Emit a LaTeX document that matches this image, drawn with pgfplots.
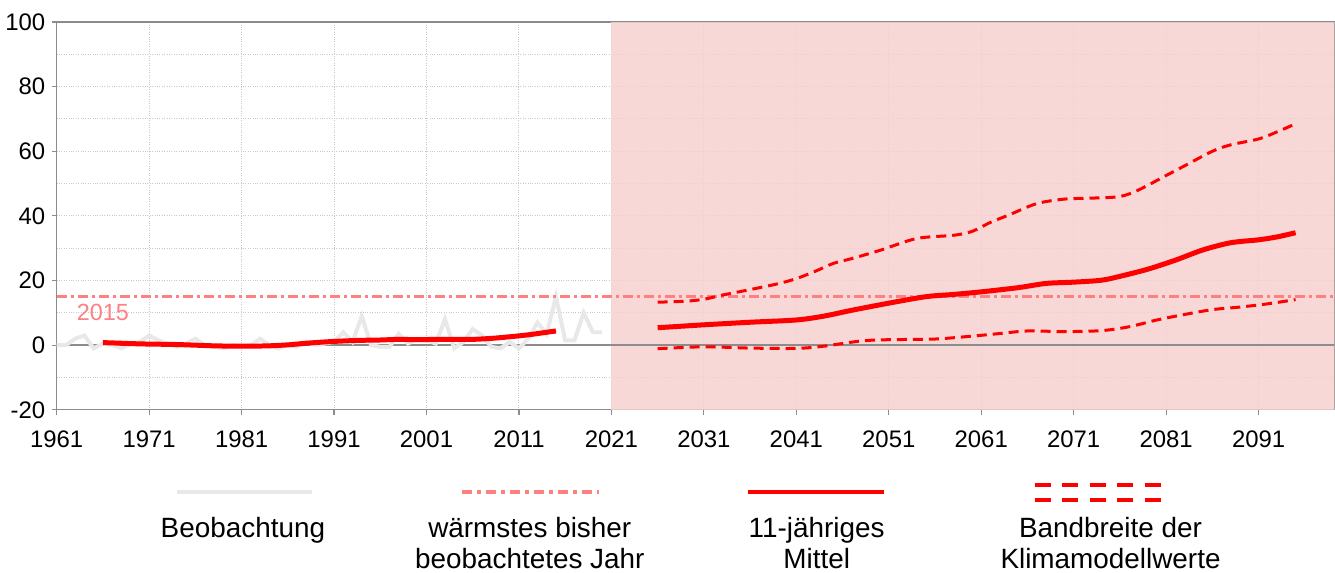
\documentclass[border=0pt]{standalone}
\usepackage{pgfplots}
\pgfplotsset{compat=1.18}
\usepackage{fontspec}
\setmainfont{Liberation Sans}
\definecolor{shade}{RGB}{247,208,208}
\definecolor{obs}{RGB}{232,232,232}
\definecolor{rec}{RGB}{255,128,128}
\definecolor{gridc}{RGB}{200,200,200}
\definecolor{axc}{RGB}{140,140,140}
\begin{document}
\begin{tikzpicture}
\begin{axis}[
  at={(56.7bp,162bp)}, anchor=south west,
  scale only axis, width=1278.3bp, height=388bp,
  xmin=1961, xmax=2099.2, ymin=-20, ymax=100,
  xtick={1961,1971,...,2091}, ytick={-20,0,...,100},
  minor ytick={-10,10,...,90},
  grid=both,
  major grid style={gridc, dotted, line width=1bp},
  minor grid style={gridc, dotted, line width=1bp},
  axis line style={axc, line width=1.2bp},
  tick style={axc, line width=1.2bp},
  minor tick length=0pt, major tick length=5bp,
  tick align=outside, xtick pos=left, ytick pos=left,
  /pgf/number format/assume math mode=true,
  /pgf/number format/1000 sep={},
  ticklabel style={font=\fontsize{24}{28}\selectfont},
  xticklabel style={yshift=-12bp},
  yticklabel style={xshift=-3bp},
]
\addplot[draw=none, fill=shade, fill opacity=0.85] coordinates {(2021,-20) (2021,100) (2100,100) (2100,-20)};
% zero line
\addplot[axc, line width=2bp] coordinates {(1961,0) (2100,0)};
% observations
\addplot[obs, line width=4bp] coordinates {
(1961,0)(1962,0)(1963,2)(1964,3)(1965,-1)(1966,0.5)(1967,0)(1968,-1)(1969,0.5)(1970,1)
(1971,3)(1972,1.5)(1973,0.5)(1974,-0.5)(1975,0.5)(1976,2)(1977,0)(1978,-0.5)(1979,-1)(1980,0)
(1981,-0.5)(1982,0)(1983,2)(1984,0)(1985,-1)(1986,0)(1987,-0.5)(1988,1)(1989,0)(1990,0.5)
(1991,1)(1992,4)(1993,1)(1994,9)(1995,0)(1996,-0.5)(1997,-0.5)(1998,3.5)(1999,0.5)(2000,2)
(2001,1.5)(2002,0.5)(2003,8)(2004,-1)(2005,1)(2006,5)(2007,3)(2008,-0.5)(2009,-1)(2010,1)
(2011,-1)(2012,2)(2013,7)(2014,3.5)(2015,15)(2016,1.5)(2017,1.5)(2018,10)(2019,4)(2020,4)};
% warmest year
\addplot[rec, line width=2.5bp, dash pattern=on 10bp off 4bp on 3bp off 4bp] coordinates {(1961,15) (2100,15)};
\node[rec, font=\fontsize{23.5}{26}\selectfont] at (axis cs:1966,10) {2015};
% 11-year mean observed
\addplot[red, line width=5bp, smooth] coordinates {
(1966,0.8)(1968,0.6)(1970,0.4)(1972,0.3)(1974,0.2)(1976,0)(1978,-0.2)(1980,-0.3)(1982,-0.3)(1984,-0.2)
(1986,0.1)(1988,0.6)(1990,1.0)(1992,1.3)(1994,1.5)(1996,1.6)(1998,1.8)(2000,1.7)(2002,1.8)(2004,1.8)
(2006,1.8)(2008,2.1)(2010,2.6)(2012,3.2)(2014,4.0)(2015,4.4)};
% 11-year mean projected
\addplot[red, line width=5bp, smooth] coordinates {
(2026,5.4)(2031,6.3)(2036,7.1)(2041,7.8)(2044,9)(2047,10.8)(2051,13)(2055,15)(2058,15.7)(2061,16.5)
(2065,17.8)(2068,19.1)(2071,19.5)(2074,20.1)(2076,21.3)(2079,23.5)(2082,26.3)(2085,29.5)(2088,31.7)
(2091,32.6)(2093,33.5)(2095,34.8)};
% upper band
\addplot[red, line width=3bp, dash pattern=on 10bp off 6bp, smooth] coordinates {
(2026,13.3)(2029,13.6)(2031,14.2)(2033,15.5)(2036,17.2)(2039,19)(2041,20.6)(2043,22.8)(2045,25.3)(2047,26.8)
(2050,29.3)(2054,33)(2058,34)(2060,35.2)(2062,38)(2064,40.3)(2067,43.8)(2070,45.2)(2073,45.5)(2076,46)
(2078,48)(2081,52.5)(2083,55.5)(2086,60)(2088,62)(2091,63.8)(2093,66)(2095,68.5)};
% lower band
\addplot[red, line width=3bp, dash pattern=on 10bp off 6bp, smooth] coordinates {
(2026,-1.1)(2031,-0.5)(2036,-0.9)(2041,-1)(2044,-0.3)(2048,1.3)(2051,1.7)(2056,1.9)(2060,2.8)(2063,3.6)
(2066,4.4)(2070,4.2)(2074,4.5)(2077,5.7)(2080,7.8)(2083,9.5)(2086,11)(2089,11.8)(2092,12.8)(2095,14.1)};
\end{axis}
% legend
\begin{scope}[font=\fontsize{28}{32}\selectfont]
\draw[obs, line width=4.5bp] (177bp,80bp) -- (312bp,80bp);
\draw[rec, line width=4bp, dash pattern=on 10bp off 5bp on 4bp off 5bp] (462bp,80bp) -- (599bp,80bp);
\draw[red, line width=4.5bp] (748bp,80bp) -- (884bp,80bp);
\draw[red, line width=3.5bp, dash pattern=on 16bp off 11.5bp] (1035bp,87bp) -- (1161bp,87bp);
\draw[red, line width=3.5bp, dash pattern=on 16bp off 11.5bp] (1035bp,72bp) -- (1161bp,72bp);
\node[anchor=base] at (243bp,34bp) {Beobachtung};
\node[anchor=base] at (530bp,34bp) {wärmstes bisher};
\node[anchor=base] at (530bp,3bp) {beobachtetes Jahr};
\node[anchor=base] at (817bp,34bp) {11-jähriges};
\node[anchor=base] at (817bp,3bp) {Mittel};
\node[anchor=base] at (1111bp,34bp) {Bandbreite der};
\node[anchor=base] at (1111bp,3bp) {Klimamodellwerte};
\end{scope}
\useasboundingbox (0,0) rectangle (1335bp,572bp);
\end{tikzpicture}
\end{document}
